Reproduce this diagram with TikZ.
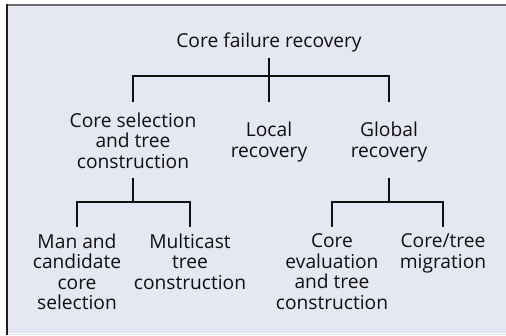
\documentclass[tikz,border=0pt]{standalone}
\usepackage{fontspec}
\setmainfont{Open Sans}
\definecolor{bgc}{HTML}{E5E7F2}
\definecolor{topc}{HTML}{6E6E72}
\definecolor{leftc}{HTML}{1E1E1E}
\definecolor{txt}{HTML}{101010}
\tikzset{
  lbl/.style={inner sep=0pt, align=center, anchor=north, text=txt,
    font=\fontsize{19.2}{20.4}\selectfont,
    execute at begin node=\strut, execute at end node=\strut},
  conn/.style={draw=txt, line width=1.1pt}
}
\begin{document}
\begin{tikzpicture}[x=1pt,y=-1pt]
\useasboundingbox (0,0) rectangle (506,335);
\fill[bgc] (6,5) rectangle (506,335);
\draw[topc, line width=2pt] (6,5) -- (506,5);
\draw[leftc, line width=1.5pt] (6.75,4) -- (6.75,335);
\draw[white!60!bgc, line width=1pt] (7.5,333.5) -- (506,333.5);
% nodes (top = first baseline - 14.28)
\node[lbl] (root) at (269,32.7) {Core failure recovery};
\node[lbl] (cs) at (133,112.7) {Core selection\\and tree\\construction};
\node[lbl] (lr) at (269,122.2) {Local\\recovery};
\node[lbl] (gr) at (389,122.2) {Global\\recovery};
\node[lbl] (mc) at (77,233.7) {Man and\\candidate\\core\\selection};
\node[lbl] (mt) at (190,233.7) {Multicast\\tree\\construction};
\node[lbl] (ce) at (332,233.7) {Core\\evaluation\\and tree\\construction};
\node[lbl] (cm) at (443,233.7) {Core/tree\\migration};
% junctions
\coordinate (j1) at (269,76);
\coordinate (j2) at (133,202);
\coordinate (j3) at (389,202);
% connectors
\draw[conn, shorten <=3.9pt] (root.south) -- (j1);
\draw[conn, shorten >=10.7pt] (j1) -| (cs.north);
\draw[conn, shorten >=20.2pt] (j1) -| (gr.north);
\draw[conn, shorten >=20.2pt] (j1) -- (lr.north);
\draw[conn, shorten <=2.9pt] (cs.south) -- (j2);
\draw[conn, shorten >=6.7pt] (j2) -| (mc.north);
\draw[conn, shorten >=6.7pt] (j2) -| (mt.north);
\draw[conn, shorten <=13.9pt] (gr.south) -- (j3);
\draw[conn, shorten >=6.7pt] (j3) -| (ce.north);
\draw[conn, shorten >=6.7pt] (j3) -| (cm.north);
\end{tikzpicture}
\end{document}
